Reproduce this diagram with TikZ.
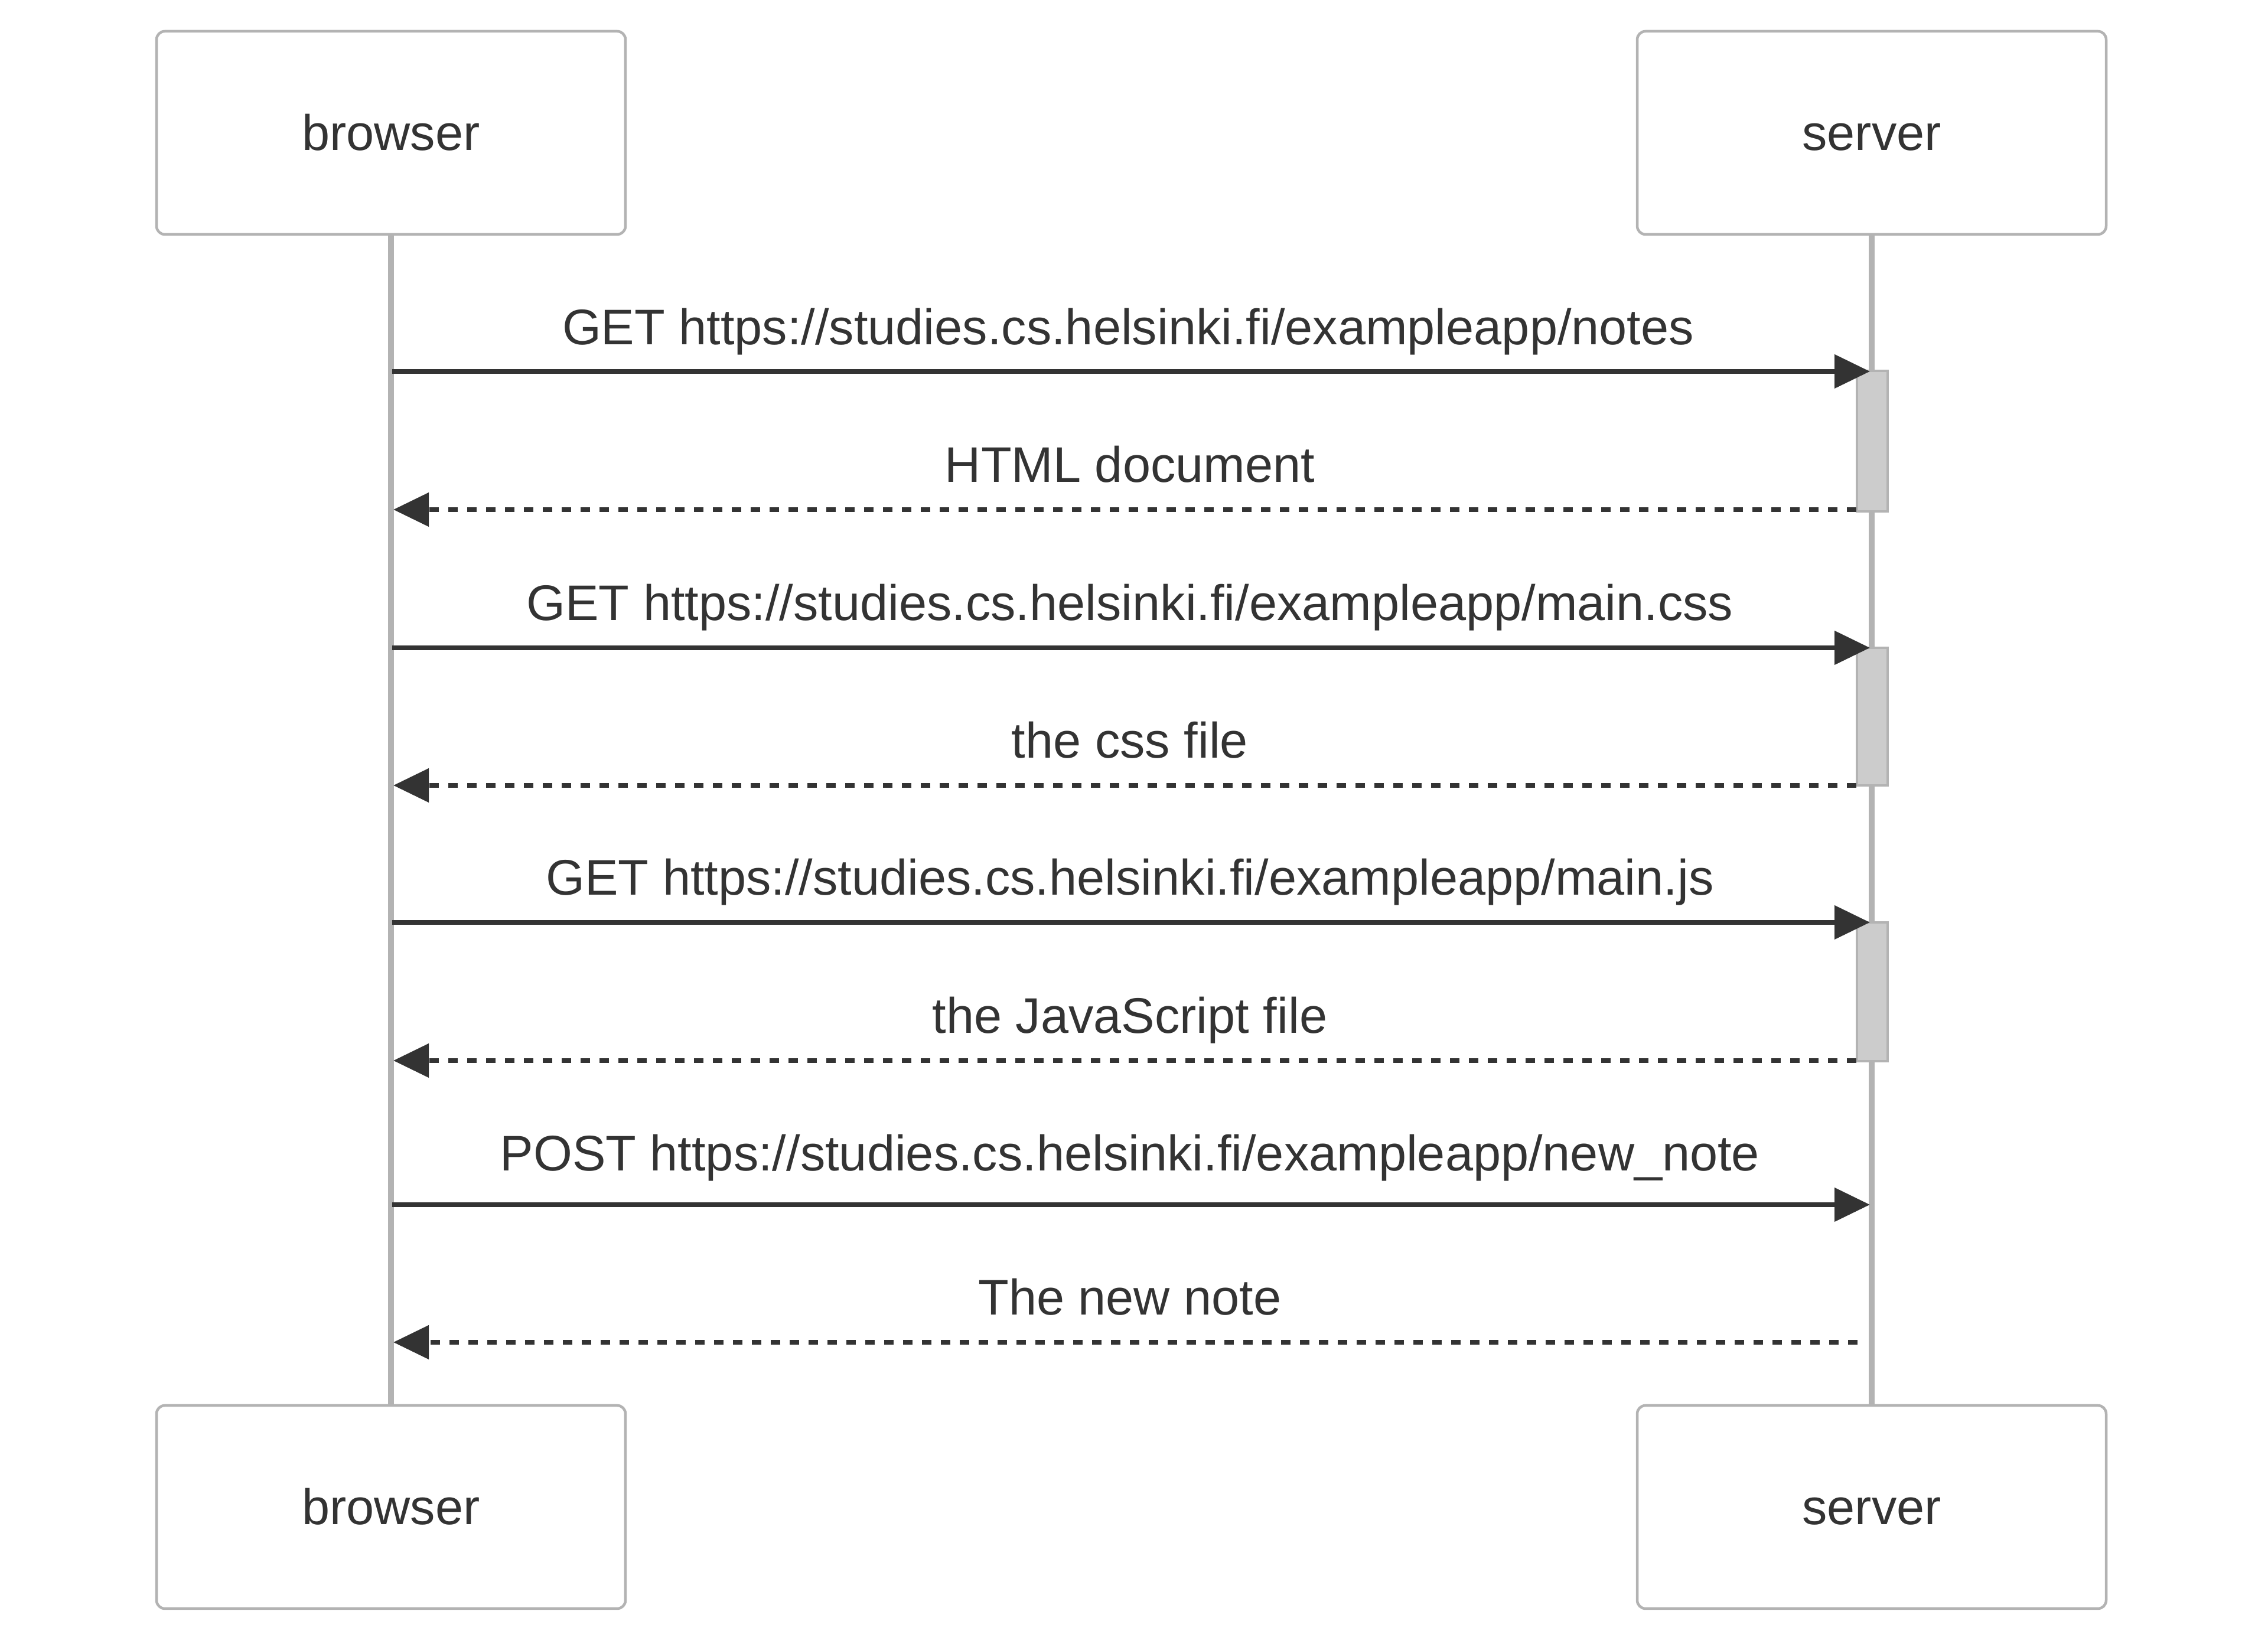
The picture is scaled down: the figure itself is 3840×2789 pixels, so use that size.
\documentclass[tikz,border=0pt]{standalone}
\usepackage{fontspec}
\setmainfont{Liberation Sans}
\usetikzlibrary{arrows.meta}
\definecolor{txt}{HTML}{333333}
\definecolor{edge}{HTML}{B3B3B3}
\definecolor{actfill}{HTML}{CCCCCC}
\tikzset{
  actor/.style={draw=edge, line width=0.45pt, fill=white, rounded corners=1.4pt,
    minimum width=79.4pt, minimum height=34.4pt, inner sep=0pt, outer sep=0pt,
    text height=6pt, text depth=0pt,
    font=\fontsize{8.47pt}{10pt}\selectfont, text=txt},
  lifeline/.style={draw=edge, line width=1.05pt},
  activation/.style={draw=edge, line width=0.45pt, fill=actfill,
    minimum width=5.2pt, inner sep=0pt, outer sep=0pt},
  msg/.style={draw=txt, line width=0.8pt,
    -{Triangle[length=6pt,width=5.6pt]}, color=txt},
  reply/.style={msg, dash pattern=on 1.6pt off 1.6pt},
  lbl/.style={anchor=base, inner sep=0pt, text=txt,
    font=\fontsize{8.47pt}{10pt}\selectfont}
}
\begin{document}
\begin{tikzpicture}[x=0.1pt,y=-0.1pt]
\useasboundingbox[fill=white] (0,0) rectangle (3840,2789);
% actors
\node[actor] (b1) at (662,225) {browser};
\node[actor] (s1) at (3169,225) {server};
\node[actor] (b2) at (662,2552) {browser};
\node[actor] (s2) at (3169,2552) {server};
% lifelines
\draw[lifeline] (b1.south) -- (b2.north);
\draw[lifeline] (s1.south) -- (s2.north);
% activations
\node[activation, minimum height=23.8pt, anchor=north] (a1) at (3170,628) {};
\node[activation, minimum height=23.3pt, anchor=north] (a2) at (3170,1097) {};
\node[activation, minimum height=23.5pt, anchor=north] (a3) at (3170,1562) {};
% message end points
\coordinate (b-m1) at (664,629);  \coordinate (s-m1) at (3166,629);
\coordinate (b-m2) at (666,863);  \coordinate (s-m2) at (3143,863);
\coordinate (b-m3) at (664,1097); \coordinate (s-m3) at (3166,1097);
\coordinate (b-m4) at (666,1330); \coordinate (s-m4) at (3143,1330);
\coordinate (b-m5) at (664,1562); \coordinate (s-m5) at (3166,1562);
\coordinate (b-m6) at (666,1796); \coordinate (s-m6) at (3143,1796);
\coordinate (b-m7) at (664,2040); \coordinate (s-m7) at (3166,2040);
\coordinate (b-m8) at (666,2273); \coordinate (s-m8) at (3145,2273);
% messages
\draw[msg] (b-m1) -- (s-m1);
\draw[reply] (s-m2) -- (b-m2);
\draw[msg] (b-m3) -- (s-m3);
\draw[reply] (s-m4) -- (b-m4);
\draw[msg] (b-m5) -- (s-m5);
\draw[reply] (s-m6) -- (b-m6);
\draw[msg] (b-m7) -- (s-m7);
\draw[reply] (s-m8) -- (b-m8);
% labels
\node[lbl] (l1) at (1910,584) {GET https://studies.cs.helsinki.fi/exampleapp/notes};
\node[lbl] (l2) at (1913,817) {HTML document};
\node[lbl] (l3) at (1913,1051) {GET https://studies.cs.helsinki.fi/exampleapp/main.css};
\node[lbl] (l4) at (1913,1284) {the css file};
\node[lbl] (l5) at (1913,1516) {GET https://studies.cs.helsinki.fi/exampleapp/main.js};
\node[lbl] (l6) at (1913,1750) {the JavaScript file};
\node[lbl] (l7) at (1913,1983) {POST https://studies.cs.helsinki.fi/exampleapp/new\_note};
\node[lbl] (l8) at (1913,2227) {The new note};
\end{tikzpicture}
\end{document}
